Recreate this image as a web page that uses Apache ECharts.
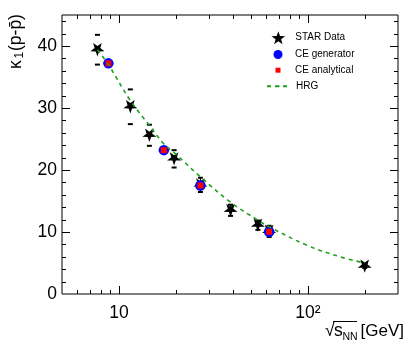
<!DOCTYPE html>
<html><head><meta charset="utf-8">
<script src="https://cdn.jsdelivr.net/npm/echarts@6/dist/echarts.min.js"></script>
<style>html,body{margin:0;padding:0;background:#fff}#c{width:411px;height:348px}</style>
</head><body><div id="c"></div>
<script>
// ---- data ----
const starEnergy = [7.7, 11.5, 14.5, 19.6, 27, 39, 54.4, 62.4, 200];
const starValue  = [39.4, 30.2, 25.6, 21.8, 17.6, 13.5, 11.1, 10.1, 4.5];
const starError  = [2.4, 2.8, 1.7, 1.4, 1.15, 0.9, 0.75, 0.9, 0.3];
const ceGenEnergy = [8.8, 17.3, 27, 62.4];
const ceGenValue  = [37.2, 23.2, 17.5, 10.05];
const ceAnaEnergy = [8.8, 17.3, 27, 62.4];
const ceAnaValue  = [37.2, 23.2, 17.5, 10.05];
const hrgEnergy = [7.7, 8.8, 11.5, 14.5, 17.3, 19.6, 27, 39, 54.4, 62.4, 100, 150, 200];
const hrgValue  = [39.4, 37.0, 31.2, 27.2, 24.2, 22.8, 18.9, 14.8, 11.9, 10.85, 7.8, 5.95, 5.0];
const xMajorTicks = [10, 100];
const xMinorTicks = [6, 7, 8, 9, 20, 30, 40, 50, 60, 70, 80, 90, 200];
const yMajorTicks = [10, 20, 30, 40];
const yMinorTicks = [2, 4, 6, 8, 12, 14, 16, 18, 22, 24, 26, 28, 32, 34, 36, 38, 42, 44];
const seriesNames = ['STAR Data', 'CE generator', 'CE analytical', 'HRG'];

const FONT = 'Liberation Sans, Arial, Helvetica, sans-serif';
const STAR = 'path://M50 0 L61.76 33.82 L97.55 34.55 L69.02 56.18 L79.39 90.45 L50 70 L20.61 90.45 L30.98 56.18 L2.45 34.55 L38.24 33.82 Z';
const SQUARE = 'path://M0 0 L10 0 L10 10 L0 10 Z';

const chart = echarts.init(document.getElementById('c'), null, {renderer: 'canvas'});

function tickItem(params, api, isX) {
  const cs = params.coordSys;
  const major = api.value(2) === 1;
  const len = major ? 8 : 4;
  const st = {stroke: '#000', lineWidth: 1};
  if (isX) {
    const px = Math.round(api.coord([api.value(0), 1])[0]) + 0.5;
    const yb = cs.y + cs.height, yt = cs.y;
    return {type: 'group', children: [
      {type: 'line', shape: {x1: px, y1: yb, x2: px, y2: yb - len}, style: st},
      {type: 'line', shape: {x1: px, y1: yt, x2: px, y2: yt + len}, style: st}
    ]};
  } else {
    const py = Math.round(api.coord([10, api.value(1)])[1]) + 0.5;
    const xl = cs.x, xr = cs.x + cs.width;
    return {type: 'group', children: [
      {type: 'line', shape: {x1: xl, y1: py, x2: xl + len, y2: py}, style: st},
      {type: 'line', shape: {x1: xr, y1: py, x2: xr - len, y2: py}, style: st}
    ]};
  }
}

const xTickData = xMajorTicks.map(v => [v, 1, 1]).concat(xMinorTicks.map(v => [v, 1, 0]));
const yTickData = yMajorTicks.map(v => [10, v, 1]).concat(yMinorTicks.map(v => [10, v, 0]));
const errData = starEnergy.map((e, i) => [e, starValue[i], starError[i]]);

const legendCenters = [37.7, 54, 69.7, 85.7];
const legendIconH = [13, 9, 5, 2];
const legendIconW = [13, 9, 5, 24];
const legendTopAdj = [-6.5, -4.5, -4.5, -4.5];
const legends = seriesNames.map((n, i) => ({
  data: [n], left: 266 + (24 - legendIconW[i]) / 2, top: legendCenters[i] + legendTopAdj[i], orient: 'vertical', padding: 0,
  itemWidth: 24, itemHeight: legendIconH[i], itemGap: 0, selectedMode: false,
  textStyle: {fontSize: 10, color: '#000', fontFamily: FONT}
}));

const option = {
  animation: false,
  backgroundColor: '#fff',
  grid: {left: 62, right: 13, top: 15, bottom: 54, show: true, borderColor: '#000', borderWidth: 1},
  legend: legends,
  xAxis: {
    type: 'log', logBase: 10, min: 5, max: 300,
    axisLine: {show: false}, axisTick: {show: false}, splitLine: {show: false}, minorTick: {show: false},
    axisLabel: {
      color: '#000', fontSize: 17.5, fontFamily: FONT, margin: 10,
      formatter: function (v) {
        if (Math.abs(v - 10) < 1e-6) return '10';
        if (Math.abs(v - 100) < 1e-4) return '10²';
        return '';
      }
    }
  },
  yAxis: {
    type: 'value', min: 0, max: 45, interval: 10,
    axisLine: {show: false}, axisTick: {show: false}, splitLine: {show: false},
    axisLabel: {color: '#000', fontSize: 17.5, fontFamily: FONT, margin: 5, showMaxLabel: false}
  },
  graphic: [
    {type: 'group', x: 16, y: 69, rotation: Math.PI / 2, children: [
      {type: 'text', x: 0, y: 0, style: {text: 'κ', fontSize: 17.5, fontFamily: FONT, fill: '#000', verticalAlign: 'middle', align: 'left'}},
      {type: 'text', x: 10.5, y: 4, style: {text: '1', fontSize: 12, fontFamily: FONT, fill: '#000', verticalAlign: 'middle', align: 'left'}},
      {type: 'text', x: 18, y: 0, style: {text: '(p-p\u0304)', fontSize: 17.5, fontFamily: FONT, fill: '#000', verticalAlign: 'middle', align: 'left'}}
    ]},
    {type: 'text', x: 325, y: 331, style: {text: '√', fontSize: 17.5, fontFamily: FONT, fill: '#000', verticalAlign: 'middle', align: 'left'}},
    {type: 'text', x: 334, y: 331, style: {text: 's', fontSize: 17.5, fontFamily: FONT, fill: '#000', verticalAlign: 'middle', align: 'left'}},
    {type: 'text', x: 342.5, y: 337, style: {text: 'NN', fontSize: 10.5, fontFamily: FONT, fill: '#000', verticalAlign: 'middle', align: 'left'}},
    {type: 'line', shape: {x1: 333, y1: 321.5, x2: 357, y2: 321.5}, style: {stroke: '#000', lineWidth: 1}},
    {type: 'text', x: 404, y: 331, style: {text: '[GeV]', fontSize: 17, fontFamily: FONT, fill: '#000', verticalAlign: 'middle', align: 'right'}}
  ],
  series: [
    {type: 'custom', name: 'xticks', data: xTickData, renderItem: (p, a) => tickItem(p, a, true), silent: true, z: 1},
    {type: 'custom', name: 'yticks', data: yTickData, renderItem: (p, a) => tickItem(p, a, false), silent: true, z: 1},
    {type: 'custom', name: 'errors', data: errData, silent: true, z: 2,
      renderItem: function (params, api) {
        const e = api.value(0), v = api.value(1), err = api.value(2);
        const c = api.coord([e, v]);
        const t = api.coord([e, v + err]);
        const b = api.coord([e, v - err]);
        const st = {stroke: '#000', lineWidth: 2};
        const ch = [
          {type: 'line', shape: {x1: c[0] - 2.5, y1: t[1], x2: c[0] + 2.5, y2: t[1]}, style: st},
          {type: 'line', shape: {x1: c[0] - 2.5, y1: b[1], x2: c[0] + 2.5, y2: b[1]}, style: st}
        ];
        if (c[1] - t[1] < 7.5) ch.push({type: 'line', shape: {x1: c[0], y1: t[1], x2: c[0], y2: b[1]}, style: {stroke: '#000', lineWidth: 1}});
        return {type: 'group', children: ch};
      }},
    {type: 'scatter', name: seriesNames[0], data: starEnergy.map((e, i) => [e, starValue[i]]),
      symbol: STAR, symbolSize: 14, symbolRotate: 180, symbolKeepAspect: true,
      itemStyle: {color: '#000', opacity: 1}, z: 3},
    {type: 'scatter', name: seriesNames[1], data: ceGenEnergy.map((e, i) => [e, ceGenValue[i]]),
      symbol: 'circle', symbolSize: 10.5, itemStyle: {color: '#0000ff', opacity: 1}, z: 4},
    {type: 'scatter', name: seriesNames[2], data: ceAnaEnergy.map((e, i) => [e, ceAnaValue[i]]),
      symbol: SQUARE, symbolSize: 6, symbolKeepAspect: true, itemStyle: {color: '#ff0000', opacity: 1}, z: 5},
    {type: 'line', name: seriesNames[3], data: hrgEnergy.map((e, i) => [e, hrgValue[i]]),
      symbol: 'none', smooth: 0.4, lineStyle: {color: '#1f9f1f', width: 1.6, type: [4, 4]},
      itemStyle: {color: '#1f9f1f'}, z: 6}
  ]
};
chart.setOption(option);
</script>
</body></html>
